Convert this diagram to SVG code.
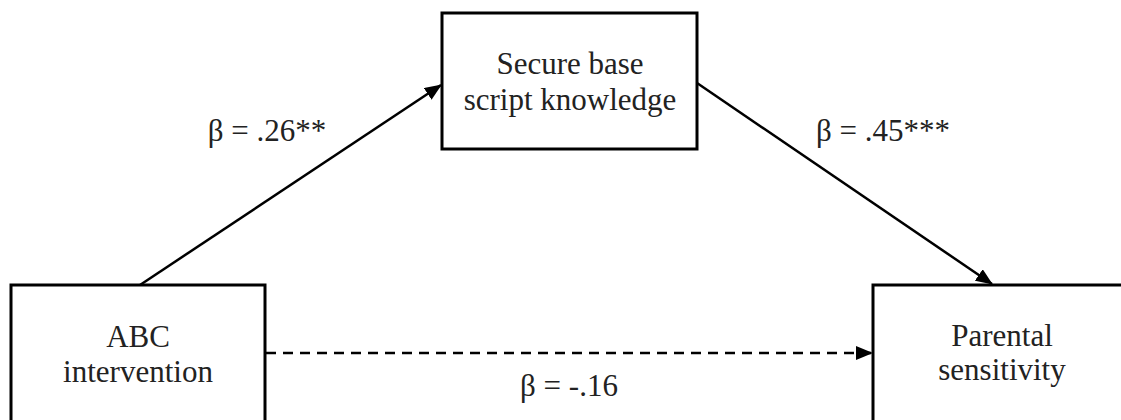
<svg xmlns="http://www.w3.org/2000/svg" width="1121" height="420" viewBox="0 0 1121 420">
<defs>
<marker id="ah2" markerWidth="17" markerHeight="14" refX="16" refY="7" orient="auto" markerUnits="userSpaceOnUse" viewBox="0 0 17 14">
<path d="M0,0 L17,7 L0,14 z" fill="#000"/>
</marker>
<style>
.box{fill:#fff;stroke:#000;stroke-width:3}
.t{font-family:"Liberation Serif","Times New Roman",serif;font-size:31px;fill:#222;text-anchor:middle}
.c{stroke:#000;stroke-width:2.5;fill:none}
</style>
</defs>
<rect width="1121" height="420" fill="#fff"/>
<g id="connectors">
<line class="c" x1="140" y1="285" x2="441" y2="85" marker-end="url(#ah2)"/>
<line class="c" x1="697" y1="83" x2="992" y2="284" marker-end="url(#ah2)"/>
<line class="c" x1="266" y1="353" x2="872" y2="353" stroke-dasharray="10,7" marker-end="url(#ah2)"/>
<text class="t" x="267" y="141">β = .26**</text>
<text class="t" x="883" y="141">β = .45***</text>
<text class="t" x="569" y="396">β = -.16</text>
</g>
<g id="node-secure">
<rect class="box" x="442" y="13" width="255" height="136"/>
<text class="t" x="570" y="74">Secure base</text>
<text class="t" x="570" y="110">script knowledge</text>
</g>
<g id="node-abc">
<rect class="box" x="11" y="285" width="254" height="150"/>
<text class="t" x="138" y="347">ABC</text>
<text class="t" x="138" y="382">intervention</text>
</g>
<g id="node-parental">
<rect class="box" x="873" y="285" width="260" height="150"/>
<text class="t" x="1002" y="346">Parental</text>
<text class="t" x="1002" y="380">sensitivity</text>
</g>
</svg>
